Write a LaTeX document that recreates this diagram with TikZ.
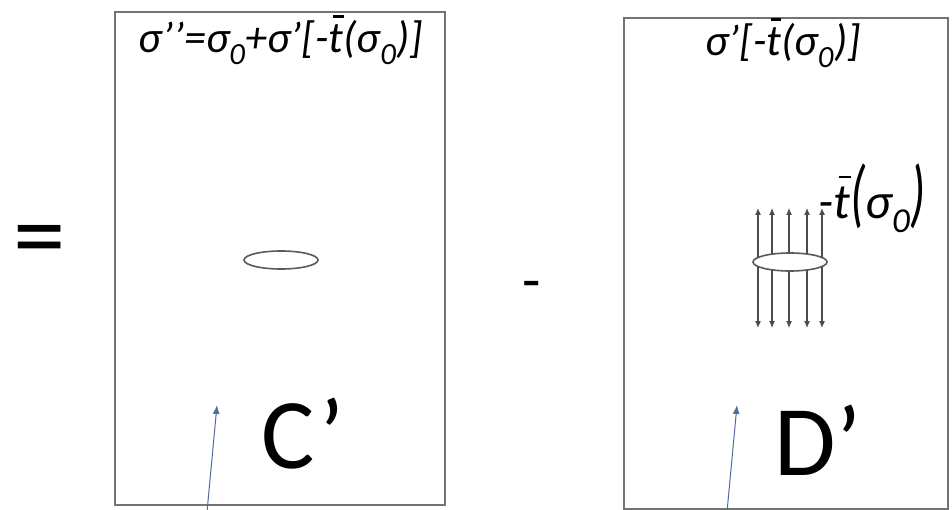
\documentclass[tikz,border=0pt]{standalone}
\usepackage{fontspec}
\setmainfont{Carlito}
\usetikzlibrary{arrows.meta}
\definecolor{steel}{RGB}{78,108,158}
\newcommand{\tbar}{\leavevmode\hbox{\rlap{\kern0.1em\raisebox{0.8em}{\rule{0.24em}{0.05em}}}t}}

\tikzset{
  panel/.style={draw=black!55, line width=1.6pt, minimum width=#1},
  force/.style={draw=black!70, line width=1.1pt, -{Latex[length=7pt,width=6pt]}},
  pointer/.style={draw=steel, line width=1pt, -{Latex[length=9pt,width=7pt]}},
  title/.style={font=\fontsize{44}{48}\selectfont\itshape},
  big/.style={font=\fontsize{#1}{#1}\selectfont}
}

\begin{document}
\begin{tikzpicture}[x=1pt, y=-1pt]
  \useasboundingbox (0,0) rectangle (952,510);

  % the two panels
  \node[panel=330pt, minimum height=493pt] (panC) at (280,258.5) {};
  \node[panel=324pt, minimum height=491pt] (panD) at (786,263.5) {};

  % signs between them
  \node[big=105] (eq) at (40,248) {=};
  \node[big=60] (minus) at (532,291) {-};

  % panel titles
  \node[title] (headC) at (281,40) {σ’’=σ\textsubscript{0}+σ’[-\tbar(σ\textsubscript{0})]};
  \node[title] (headD) at (783,43) {σ’[-\tbar(σ\textsubscript{0})]};

  % crack in panel C
  \draw[black!65, line width=1.6pt] (281,260) ellipse (37pt and 9pt);

  % crack in panel D with the traction arrows
  \foreach \x in {758,772,789,807,822} {
    \draw[force] (\x,262) -- (\x,208);
    \draw[force] (\x,262) -- (\x,328);
  }
  \draw[black!65, fill=white, line width=1.6pt] (790,262) ellipse (37pt and 9pt);
  \node[anchor=west, inner sep=0pt, font=\fontsize{50}{54}\selectfont\itshape] (trac) at (818,198)
    {-\tbar\scalebox{1}[1.5]{(}σ\textsubscript{0}\scalebox{1}[1.5]{)}};

  % panel names
  \node[big=100] (nameC) at (303,434) {C’};
  \node[big=100] (nameD) at (818,440) {D’};

  % pointers from below
  \coordinate (footC) at (207,512);
  \coordinate (tipC) at (217,405);
  \coordinate (footD) at (727,512);
  \coordinate (tipD) at (737,405);
  \draw[pointer] (footC) -- (tipC);
  \draw[pointer] (footD) -- (tipD);
\end{tikzpicture}
\end{document}
